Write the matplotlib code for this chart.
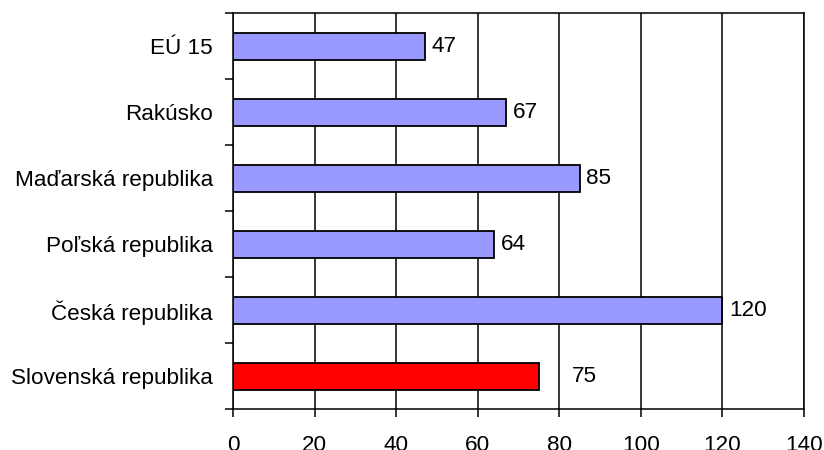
import numpy as np
import matplotlib.pyplot as plt
from matplotlib.ticker import FixedLocator

plt.rcParams['font.family'] = ['Liberation Sans', 'DejaVu Sans']

# údaje z grafu (zhora nadol)
countries = ['EÚ 15', 'Rakúsko', 'Maďarská republika', 'Poľská republika',
             'Česká republika', 'Slovenská republika']
values = [47, 67, 85, 64, 120, 75]
bar_colors = ['#9999FF', '#9999FF', '#9999FF', '#9999FF', '#9999FF', '#FF0000']
x_ticks = [0, 20, 40, 60, 80, 100, 120, 140]

fs = 16.2

fig = plt.figure(figsize=(8.24, 4.5), dpi=100)
ax = fig.add_axes([0.2828, 0.0911, 0.6929, 0.8793])

y = np.arange(len(countries))
ax.barh(y, values, height=0.41, color=bar_colors, edgecolor='black', linewidth=1.3, zorder=3)

# popisky hodnôt
for i, v in enumerate(values):
    off = 8.0 if i == len(values) - 1 else 1.6
    ax.text(v + off, i, str(v), va='center', ha='left', fontsize=fs, zorder=4)

ax.set_xlim(0, 140)
ax.set_ylim(len(countries) - 0.5, -0.5)
ax.set_xticks(x_ticks)
ax.set_xticklabels([str(t) for t in x_ticks])
ax.xaxis.grid(True, color='black', linewidth=1.1, zorder=1)
ax.set_axisbelow(True)

ax.set_yticks(y)
ax.set_yticklabels(countries)
ax.yaxis.set_minor_locator(FixedLocator(np.arange(-0.5, len(countries), 1.0)))
ax.tick_params(axis='y', which='major', length=0, pad=14.5, labelsize=fs)
ax.tick_params(axis='y', which='minor', length=6, width=1.1, direction='out')
ax.tick_params(axis='x', length=6, width=1.1, direction='out', pad=12.5, labelsize=fs)

for s in ax.spines.values():
    s.set_color('black')
    s.set_linewidth(1.1)

fig.savefig('out.png', dpi=100)
